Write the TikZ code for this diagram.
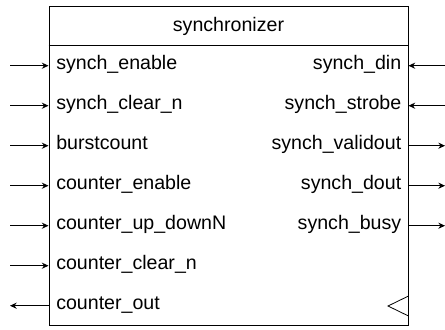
\documentclass[tikz,border=0pt]{standalone}
\usepackage{fontspec}
\setmainfont{Liberation Sans}
\usetikzlibrary{arrows.meta}
\begin{document}
\begin{tikzpicture}[x=0.75pt,y=-0.75pt,
  every node/.style={font=\fontsize{14.7}{17}\selectfont, inner sep=0pt},
  blockbox/.style={draw, line width=0.75pt, minimum width=269.25pt, minimum height=239.25pt},
  sig/.style={line width=0.75pt, -{Stealth[length=5pt,width=4.6pt,inset=1.6pt]}},
  inlbl/.style={anchor=mid west},
  outlbl/.style={anchor=mid east}]
\useasboundingbox (0,0) rectangle (445,329);

% block outline, title and separator
\node[blockbox] (blk) at (228.5,165.5) {};
\node (title) at (228.5,26) {synchronizer};
\draw[line width=0.75pt] (blk.west |- 0,45.7) coordinate (sepL) -- (blk.east |- 0,45.7) coordinate (sepR);

% left-hand ports
\foreach \nm/\txt/\y in {se/synch\_enable/65.7, sc/synch\_clear\_n/105.7, bc/burstcount/145.7,
    ce/counter\_enable/185.7, cu/counter\_up\_downN/225.7, cc/counter\_clear\_n/265.7,
    co/counter\_out/305.7} {
  \node[inlbl] (l\nm) at (56,\y) {\txt};
  \coordinate (e\nm) at (10,\y);
  \coordinate (p\nm) at (blk.west |- 0,\y);
}
\foreach \nm in {se,sc,bc,ce,cu,cc} \draw[sig] (e\nm) -- (p\nm);
\draw[sig] (pco) -- (eco);

% right-hand ports
\foreach \nm/\txt/\y in {sd/synch\_din/65.7, ss/synch\_strobe/105.7, sv/synch\_validout/145.7,
    so/synch\_dout/185.7, sb/synch\_busy/225.7} {
  \node[outlbl] (r\nm) at (401.5,\y) {\txt};
  \coordinate (e\nm) at (445,\y);
  \coordinate (p\nm) at (blk.east |- 0,\y);
}
\foreach \nm in {sd,ss} \draw[sig] (e\nm) -- (p\nm);
\foreach \nm in {sv,so,sb} \draw[sig] (p\nm) -- (e\nm);

% clock marker
\draw[line width=0.6pt] (blk.east |- 0,296) -- (388,306) -- (blk.east |- 0,316);
\end{tikzpicture}
\end{document}
